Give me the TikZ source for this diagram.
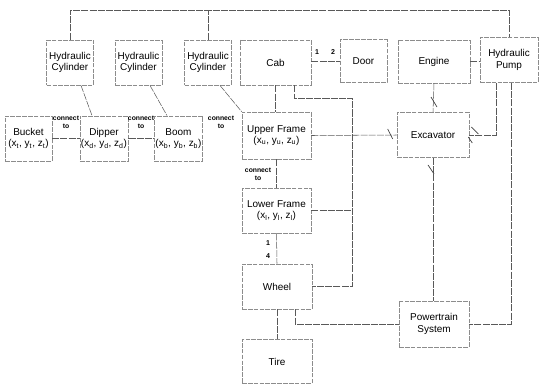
\documentclass[tikz,border=0pt]{standalone}
\usepackage{fontspec}
\setmainfont{Liberation Sans}
\usetikzlibrary{calc}
\tikzset{
  part/.style={draw=black!45,dash pattern=on 4pt off 1pt,line width=0.5pt,inner sep=1pt,
    minimum width=#1,minimum height=1.36cm,align=center,font=\fontsize{8.5}{10}\selectfont},
  part/.default=1.4cm,
  link/.style={draw=black!65,line width=0.45pt,dash pattern=on 6pt off 1pt},
  tag/.style={font=\fontsize{5.8}{6.6}\selectfont\bfseries,align=center,inner sep=0pt},
  num/.style={font=\fontsize{6}{6}\selectfont\bfseries,inner sep=0pt},
  tick/.style={draw=black!75,line width=0.6pt},
}
\newcommand{\crd}[1]{(x\textsubscript{#1}, y\textsubscript{#1}, z\textsubscript{#1})}

\begin{document}
\begin{tikzpicture}[x=0.03cm,y=-0.03cm]
  \useasboundingbox (0,0) rectangle (541,384);
  % top row
  \node[part] (hc1) at (70,62.5) {Hydraulic\\Cylinder};
  \node[part] (hc2) at (138.5,62.5) {Hydraulic\\Cylinder};
  \node[part] (hc3) at (208,62.5) {Hydraulic\\Cylinder};
  \node[part=2.13cm] (cab) at (275.5,62.5) {Cab};
  \node[part=1.41cm,minimum height=1.29cm] (door) at (363.5,61) {Door};
  \node[part=2.16cm,minimum height=1.29cm] (engine) at (434,61.5) {Engine};
  \node[part=1.74cm] (pump) at (509,60) {Hydraulic\\Pump};
  % boom chain
  \node[part] (bucket) at (28.5,138.5) {Bucket\\\crd{t}};
  \node[part=1.44cm] (dipper) at (104,138.5) {Dipper\\\crd{d}};
  \node[part] (boom) at (178.5,138.5) {Boom\\\crd{b}};
  \node[part=2.07cm,minimum height=1.41cm] (upper) at (276.5,135.5) {Upper Frame\\\crd{u}};
  \node[part=2.07cm] (lower) at (276.5,210.5) {Lower Frame\\\crd{l}};
  \node[part=2.1cm] (wheel) at (277,286.5) {Wheel};
  \node[part=2.1cm,minimum height=1.32cm] (tire) at (277,361.5) {Tire};
  \node[part=2.16cm] (exc) at (433,135) {Excavator};
  \node[part=2.1cm,minimum height=1.38cm] (power) at (434,324) {Powertrain\\System};
  % labels
  \node[tag] (ct1) at (66,122) {connect\\to};
  \node[tag] (ct2) at (141,122) {connect\\to};
  \node[tag] (ct3) at (221,122) {connect\\to};
  \node[tag] (ct4) at (258,174) {connect\\to};
  \node[num] (n1) at (317,52) {1};
  \node[num] (n2) at (333,52) {2};
  \node[num] (n3) at (268,243) {1};
  \node[num] (n4) at (268,256) {4};
  % connectors
  \coordinate (bus) at (70,10);
  \coordinate (trunk) at (352,98);
  \draw[link] (hc1.north) -- (hc1.north |- bus) -- (pump.north |- bus) -- (pump.north);
  \draw[link] (hc3.north) -- (hc3.north |- bus);
  \draw[link] ($(hc1.south)+(11,0)$) -- ($(dipper.north)+(-12,0)$);
  \draw[link] ($(hc2.south)+(11.5,0)$) -- ($(boom.north)+(-11.5,0)$);
  \draw[link] ($(hc3.south)+(12,0)$) -- (upper.north west);
  \draw[link] (bucket.east) -- (dipper.west);
  \draw[link] (dipper.east) -- (boom.west);
  \draw[link] ($(boom.east)+(0,-1.5)$) -- ($(boom.east)+(0,-1.5)$ -| upper.west);
  \draw[link] (cab.east |- door.west) -- (door.west);
  \draw[link] (engine.east) -- (engine.east -| pump.west);
  \draw[link] (cab.south) -- (cab.south |- upper.north);
  \draw[link] ($(cab.south)+(18.5,0)$) |- (trunk) |- (wheel.east);
  \draw[link] (lower.east) -- (lower.east -| trunk);
  \draw[link] (upper.east) -- (exc.west);
  \draw[link] (engine.south) -- (exc.north);
  \draw[link] (exc.south) -- (exc.south |- power.north);
  \draw[link] ($(pump.south)+(-13,0)$) |- (exc.east);
  \draw[link] ($(pump.south)+(2,0)$) |- (power.east);
  \draw[link] (upper.south) -- (lower.north);
  \draw[link] (lower.south) -- (wheel.north);
  \draw[link] (wheel.south) -- (tire.north);
  \draw[link] ($(wheel.south)+(18,0)$) |- (power.west);
  % marks at the excavator ends
  \draw[tick] ($(exc.west)+(-9,-6)$) -- ++(5,10);
  \draw[tick] ($(exc.north)+(-2,-15)$) -- ++(6,10);
  \draw[tick] ($(exc.south)+(-5,7)$) -- ++(6,9);
  \draw[tick] ($(exc.east)+(2,-8)$) -- ++(7,7);
  \draw[tick] ($(exc.east)+(-1,2)$) -- ++(4,6);
\end{tikzpicture}
\end{document}
